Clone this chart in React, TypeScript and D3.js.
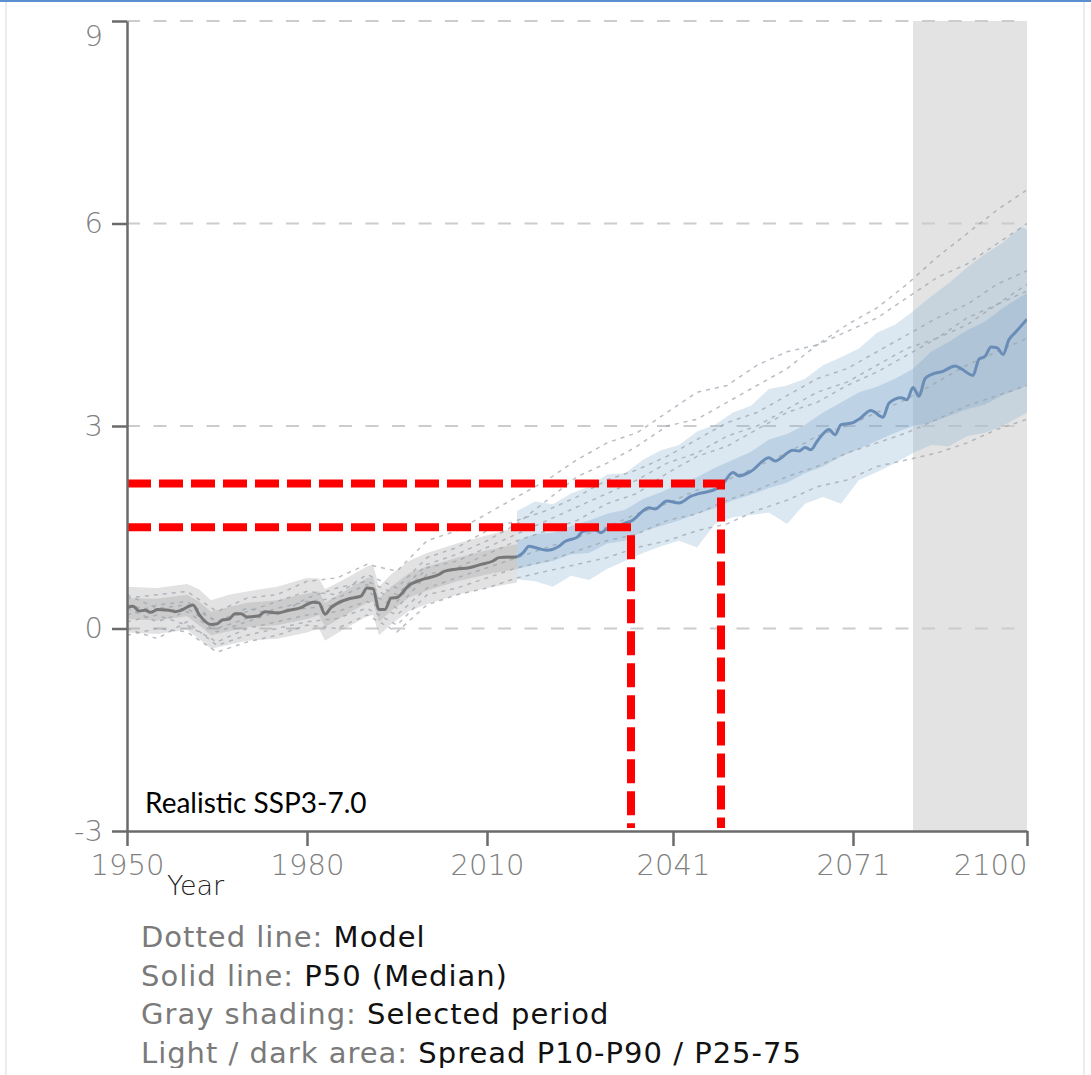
import React, { useRef, useEffect } from 'react';
import * as d3 from 'd3';

// axis ticks
const yTicks = [-3, 0, 3, 6, 9];
const xTicks = [1950, 1980, 2010, 2041, 2071, 2100];

// selected period (gray shading)
const selectedPeriod = [2081, 2100];

// red marker lines: [year, value]
const markers = [[2034, 1.5], [2049, 2.15]];

// P50 median, historical part
const histYears = [1950, 1951, 1952, 1953, 1954, 1955, 1957, 1958, 1959, 1961, 1962, 1964, 1965, 1966, 1967, 1968, 1969, 1970, 1972, 1973, 1975, 1977, 1979, 1981, 1982, 1983, 1984, 1985, 1987, 1989, 1990, 1991, 1992, 1993, 1994, 1995, 1997, 1999, 2002, 2003, 2005, 2007, 2009, 2011, 2012, 2015];
const histMedian = [0.31, 0.33, 0.26, 0.27, 0.24, 0.28, 0.27, 0.25, 0.27, 0.35, 0.21, 0.06, 0.07, 0.13, 0.14, 0.22, 0.22, 0.17, 0.19, 0.25, 0.23, 0.27, 0.31, 0.39, 0.38, 0.21, 0.31, 0.37, 0.44, 0.48, 0.60, 0.59, 0.28, 0.28, 0.45, 0.46, 0.64, 0.72, 0.80, 0.85, 0.88, 0.90, 0.95, 1.00, 1.05, 1.06];

// P50 median, projection part
const projYears = [2015, 2016, 2017, 2018, 2020, 2022, 2023, 2025, 2026, 2028, 2029, 2030, 2032, 2033, 2034, 2037, 2038, 2040, 2042, 2044, 2045, 2048, 2049, 2051, 2052, 2054, 2057, 2058, 2061, 2062, 2063, 2064, 2065, 2067, 2068, 2069, 2071, 2072, 2074, 2076, 2077, 2079, 2080, 2081, 2082, 2083, 2084, 2086, 2088, 2089, 2091, 2092, 2093, 2094, 2095, 2096, 2097, 2098, 2100];
const projMedian = [1.06, 1.12, 1.22, 1.20, 1.16, 1.22, 1.29, 1.35, 1.44, 1.46, 1.42, 1.48, 1.52, 1.56, 1.59, 1.79, 1.77, 1.89, 1.86, 1.96, 1.99, 2.06, 2.11, 2.31, 2.26, 2.33, 2.53, 2.48, 2.64, 2.63, 2.68, 2.65, 2.77, 2.95, 2.87, 3.02, 3.05, 3.10, 3.23, 3.13, 3.34, 3.42, 3.39, 3.57, 3.44, 3.70, 3.76, 3.81, 3.89, 3.85, 3.75, 3.99, 4.03, 4.17, 4.16, 4.06, 4.28, 4.38, 4.58];

// historical spread
const histBandYears = [1950, 1955, 1960, 1962, 1964, 1967, 1970, 1975, 1980, 1982, 1983, 1986, 1990, 1991, 1992, 1994, 1997, 2000, 2005, 2010, 2015];
const histP90 = [0.62, 0.60, 0.66, 0.58, 0.42, 0.50, 0.55, 0.62, 0.75, 0.74, 0.58, 0.72, 0.92, 0.95, 0.62, 0.80, 1.00, 1.12, 1.26, 1.38, 1.50];
const histP75 = [0.45, 0.44, 0.50, 0.40, 0.25, 0.32, 0.38, 0.42, 0.52, 0.55, 0.38, 0.54, 0.75, 0.76, 0.45, 0.62, 0.82, 0.92, 1.05, 1.16, 1.25];
const histP25 = [0.14, 0.12, 0.18, 0.05, -0.10, -0.04, 0.02, 0.05, 0.14, 0.20, 0.02, 0.18, 0.38, 0.40, 0.10, 0.26, 0.46, 0.56, 0.70, 0.80, 0.88];
const histP10 = [-0.06, -0.08, -0.02, -0.15, -0.30, -0.24, -0.18, -0.15, -0.06, 0.00, -0.18, -0.02, 0.18, 0.20, -0.10, 0.06, 0.26, 0.36, 0.50, 0.60, 0.68];

// projection spread
const projBandYears = [2015, 2018, 2021, 2024, 2027, 2030, 2033, 2036, 2039, 2042, 2045, 2048, 2051, 2054, 2057, 2060, 2063, 2066, 2069, 2072, 2075, 2078, 2081, 2084, 2087, 2090, 2093, 2096, 2099, 2100];
const projP90 = [1.74, 1.88, 1.84, 2.00, 2.10, 2.28, 2.30, 2.50, 2.64, 2.72, 2.92, 3.02, 3.20, 3.30, 3.55, 3.60, 3.70, 3.90, 4.02, 4.15, 4.38, 4.50, 4.70, 4.92, 5.12, 5.35, 5.55, 5.72, 5.95, 5.92];
const projP75 = [1.30, 1.40, 1.42, 1.52, 1.60, 1.70, 1.76, 1.92, 2.02, 2.14, 2.24, 2.38, 2.50, 2.62, 2.80, 2.88, 3.02, 3.20, 3.35, 3.50, 3.58, 3.70, 3.85, 4.10, 4.25, 4.42, 4.55, 4.75, 4.92, 4.97];
const projP25 = [0.88, 0.95, 1.00, 1.10, 1.12, 1.26, 1.30, 1.44, 1.52, 1.60, 1.70, 1.78, 1.90, 1.98, 2.08, 2.16, 2.30, 2.40, 2.55, 2.66, 2.78, 2.90, 3.00, 3.05, 3.15, 3.25, 3.32, 3.46, 3.56, 3.60];
const projP10 = [0.73, 0.70, 0.62, 0.78, 0.72, 0.88, 1.00, 1.12, 1.22, 1.30, 1.20, 1.55, 1.65, 1.68, 1.72, 1.55, 1.85, 1.95, 1.85, 2.20, 2.32, 2.45, 2.60, 2.72, 2.70, 2.85, 2.90, 3.00, 3.15, 3.20];

// individual models (dotted lines), every 5 years 1950-2100
const modelYears = [1950, 1955, 1960, 1965, 1970, 1975, 1980, 1985, 1990, 1995, 2000, 2005, 2010, 2015, 2020, 2025, 2030, 2035, 2040, 2045, 2050, 2055, 2060, 2065, 2070, 2075, 2080, 2085, 2090, 2095, 2100];
const model1 = [0.45, 0.50, 0.55, 0.25, 0.45, 0.50, 0.70, 0.75, 0.95, 0.85, 1.30, 1.45, 1.70, 1.95, 2.20, 2.50, 2.75, 2.90, 3.20, 3.50, 3.60, 3.90, 4.10, 4.20, 4.50, 4.75, 5.10, 5.50, 5.85, 6.20, 6.50];
const model2 = [0.20, 0.35, 0.40, 0.10, 0.30, 0.20, 0.45, 0.60, 0.70, 0.50, 0.95, 1.10, 1.30, 1.55, 1.90, 2.25, 2.45, 2.70, 3.00, 3.10, 3.35, 3.60, 3.85, 4.20, 4.40, 4.60, 4.90, 5.20, 5.40, 5.70, 6.00];
const model3 = [0.30, 0.10, 0.25, -0.05, 0.10, 0.25, 0.30, 0.35, 0.55, 0.30, 0.80, 0.90, 1.10, 1.30, 1.45, 1.60, 1.85, 2.00, 2.30, 2.55, 2.70, 2.95, 3.20, 3.35, 3.60, 3.80, 4.05, 4.30, 4.50, 4.80, 5.00];
const model4 = [0.10, 0.20, 0.05, -0.20, 0.00, 0.10, 0.20, 0.25, 0.40, 0.20, 0.60, 0.75, 0.90, 1.05, 1.20, 1.35, 1.50, 1.70, 1.85, 2.05, 2.20, 2.40, 2.60, 2.85, 3.00, 3.20, 3.40, 3.65, 3.90, 4.10, 4.30];
const model5 = [-0.10, 0.00, -0.05, -0.35, -0.20, -0.10, 0.05, 0.00, 0.20, -0.05, 0.35, 0.50, 0.60, 0.75, 0.85, 0.95, 1.05, 1.20, 1.30, 1.45, 1.55, 1.75, 1.90, 2.10, 2.20, 2.40, 2.50, 2.60, 2.75, 2.95, 3.10];
const model6 = [0.50, 0.30, 0.35, 0.10, 0.25, 0.40, 0.55, 0.50, 0.80, 0.60, 1.05, 1.20, 1.45, 1.60, 1.75, 1.95, 2.20, 2.35, 2.55, 2.80, 3.05, 3.20, 3.45, 3.70, 3.85, 4.10, 4.35, 4.60, 4.80, 5.10, 5.30];
const model7 = [0.00, -0.15, 0.10, -0.25, -0.10, 0.00, 0.10, 0.15, 0.30, 0.05, 0.50, 0.60, 0.75, 0.90, 1.00, 1.15, 1.30, 1.40, 1.60, 1.70, 1.90, 2.05, 2.25, 2.40, 2.60, 2.75, 2.90, 3.10, 3.30, 3.45, 3.60];
const model8 = [0.35, 0.25, 0.30, 0.00, 0.15, 0.30, 0.40, 0.45, 0.65, 0.40, 0.90, 1.00, 1.20, 1.40, 1.60, 1.80, 2.00, 2.20, 2.45, 2.60, 2.85, 3.00, 3.25, 3.50, 3.65, 3.90, 4.15, 4.30, 4.60, 4.80, 5.10];
const models = [model1, model2, model3, model4, model5, model6, model7, model8];

const scenarioLabel = 'Realistic SSP3-7.0';
const legendRows = [
  ['Dotted line: ', 'Model'],
  ['Solid line: ', 'P50 (Median)'],
  ['Gray shading: ', 'Selected period'],
  ['Light / dark area: ', 'Spread P10-P90 / P25-75'],
];

const THIN = '"DejaVu Sans", sans-serif';

const App = () => {
  const svgRef = useRef(null);

  useEffect(() => {
    const width = 1091;
    const height = 1075;
    const margin = { top: 21, right: 64, bottom: 244, left: 127 };
    const svg = d3.select(svgRef.current);
    svg.selectAll('*').remove();
    svg.attr('width', width).attr('height', height);

    const x = d3.scaleLinear().domain([1950, 2100]).range([margin.left, width - margin.right]);
    const y = d3.scaleLinear().domain([-3, 9]).range([height - margin.bottom, margin.top]);

    // frame
    svg.append('rect').attr('x', 0).attr('y', 0).attr('width', width).attr('height', height).attr('fill', '#fff');
    svg.append('line').attr('x1', 6).attr('x2', 6).attr('y1', 0).attr('y2', height).attr('stroke', '#e6e6e6').attr('stroke-width', 1.5);
    svg.append('line').attr('x1', 1084).attr('x2', 1084).attr('y1', 0).attr('y2', height).attr('stroke', '#e6e6e6').attr('stroke-width', 1.5);
    svg.append('line').attr('x1', 0).attr('x2', width).attr('y1', 1).attr('y2', 1).attr('stroke', '#5b8fd0').attr('stroke-width', 2);

    svg.append('defs').append('clipPath').attr('id', 'plotClip')
      .append('rect')
      .attr('x', x(1950)).attr('y', y(9))
      .attr('width', x(2100) - x(1950)).attr('height', y(-3) - y(9));

    // selected period shading
    svg.append('rect')
      .attr('x', x(selectedPeriod[0]))
      .attr('y', y(9))
      .attr('width', x(selectedPeriod[1]) - x(selectedPeriod[0]))
      .attr('height', y(-3) - y(9))
      .attr('fill', '#e3e3e3');

    // gridlines
    svg.append('g').selectAll('line')
      .data(yTicks.filter(d => d > -3))
      .join('line')
      .attr('x1', x(1950)).attr('x2', x(2100))
      .attr('y1', d => y(d)).attr('y2', d => y(d))
      .attr('stroke', '#cccccc')
      .attr('stroke-width', 2)
      .attr('stroke-dasharray', '13,13.5');

    const plot = svg.append('g').attr('clip-path', 'url(#plotClip)');

    const area = (years, lo, hi) => d3.area()
      .x((d, i) => x(years[i]))
      .y0((d, i) => y(lo[i]))
      .y1((d, i) => y(hi[i]))(years);

    // spreads
    plot.append('path').attr('d', area(histBandYears, histP10, histP90)).attr('fill', 'rgb(150,150,150)').attr('fill-opacity', 0.28);
    plot.append('path').attr('d', area(histBandYears, histP25, histP75)).attr('fill', 'rgb(140,140,140)').attr('fill-opacity', 0.25);
    plot.append('path').attr('d', area(projBandYears, projP10, projP90)).attr('fill', 'rgb(140,178,210)').attr('fill-opacity', 0.3);
    plot.append('path').attr('d', area(projBandYears, projP25, projP75)).attr('fill', 'rgb(120,162,202)').attr('fill-opacity', 0.3);

    // model lines
    const modelLine = d3.line()
      .x((d, i) => x(modelYears[i]))
      .y(d => y(d));
    plot.append('g').selectAll('path')
      .data(models)
      .join('path')
      .attr('d', d => modelLine(d))
      .attr('fill', 'none')
      .attr('stroke', '#9aa3ad')
      .attr('stroke-opacity', 0.7)
      .attr('stroke-width', 1.5)
      .attr('stroke-dasharray', '4,5');

    // median
    const medLine = (years) => d3.line()
      .x((d, i) => x(years[i]))
      .y(d => y(d))
      .curve(d3.curveMonotoneX);
    plot.append('path').datum(histMedian).attr('d', medLine(histYears))
      .attr('fill', 'none').attr('stroke', '#777').attr('stroke-width', 3);
    plot.append('path').datum(projMedian).attr('d', medLine(projYears))
      .attr('fill', 'none').attr('stroke', '#6a8db8').attr('stroke-width', 3);

    // red markers
    markers.forEach(([yr, v]) => {
      svg.append('path')
        .attr('d', `M${x(1950)},${y(v)}H${x(yr)}V${y(-3) - 3}`)
        .attr('fill', 'none')
        .attr('stroke', '#ff0000')
        .attr('stroke-width', 8)
        .attr('stroke-dasharray', '24,8');
    });

    // axes
    const yAxis = d3.axisLeft(y).tickValues(yTicks).tickFormat(d => String(d)).tickSize(15).tickSizeOuter(0).tickPadding(9);
    const gy = svg.append('g').attr('transform', `translate(${margin.left},0)`).call(yAxis);
    const xAxis = d3.axisBottom(x).tickValues(xTicks).tickFormat(d => String(d)).tickSize(15).tickSizeOuter(0).tickPadding(8);
    const gx = svg.append('g').attr('transform', `translate(0,${height - margin.bottom})`).call(xAxis);

    [gx, gy].forEach(g => {
      g.select('.domain').attr('stroke', '#6b6b6b').attr('stroke-width', 2.5);
      g.selectAll('.tick line').attr('stroke', '#6b6b6b').attr('stroke-width', 2.5);
      g.selectAll('.tick text')
        .attr('fill', '#808080')
        .style('font-family', THIN)
        .style('font-weight', 200)
        .style('font-size', '29px');
    });
    gy.selectAll('.tick text').filter(d => d === 9).attr('dy', '0.85em');
    gx.selectAll('.tick text').filter(d => d === 2100).attr('text-anchor', 'end').attr('x', 0);

    svg.append('text')
      .attr('x', 167).attr('y', 895)
      .attr('fill', '#222')
      .style('font-family', THIN).style('font-weight', 200).style('font-size', '27px')
      .text('Year');

    svg.append('text')
      .attr('x', 145).attr('y', 813)
      .attr('fill', '#000')
      .style('font-family', 'Lato, "Open Sans", sans-serif').style('font-size', '28px')
      .text(scenarioLabel);

    // legend notes
    svg.append('defs').append('clipPath').attr('id', 'legendClip')
      .append('rect').attr('x', 0).attr('y', 900).attr('width', width).attr('height', 168);
    const legend = svg.append('g').attr('clip-path', 'url(#legendClip)');
    legendRows.forEach(([k, v], i) => {
      const t = legend.append('text')
        .attr('x', 141).attr('y', 947 + i * 38.5)
        .style('font-family', '"DejaVu Sans", sans-serif').style('font-size', '29px')
        .style('letter-spacing', '1px');
      t.append('tspan').attr('fill', '#7a7a7a').text(k);
      t.append('tspan').attr('fill', '#111').text(v);
    });
  }, []);

  return (
    <div style={{ position: 'absolute', left: 0, top: 0 }}>
      <svg ref={svgRef}></svg>
    </div>
  );
};

export default App;
